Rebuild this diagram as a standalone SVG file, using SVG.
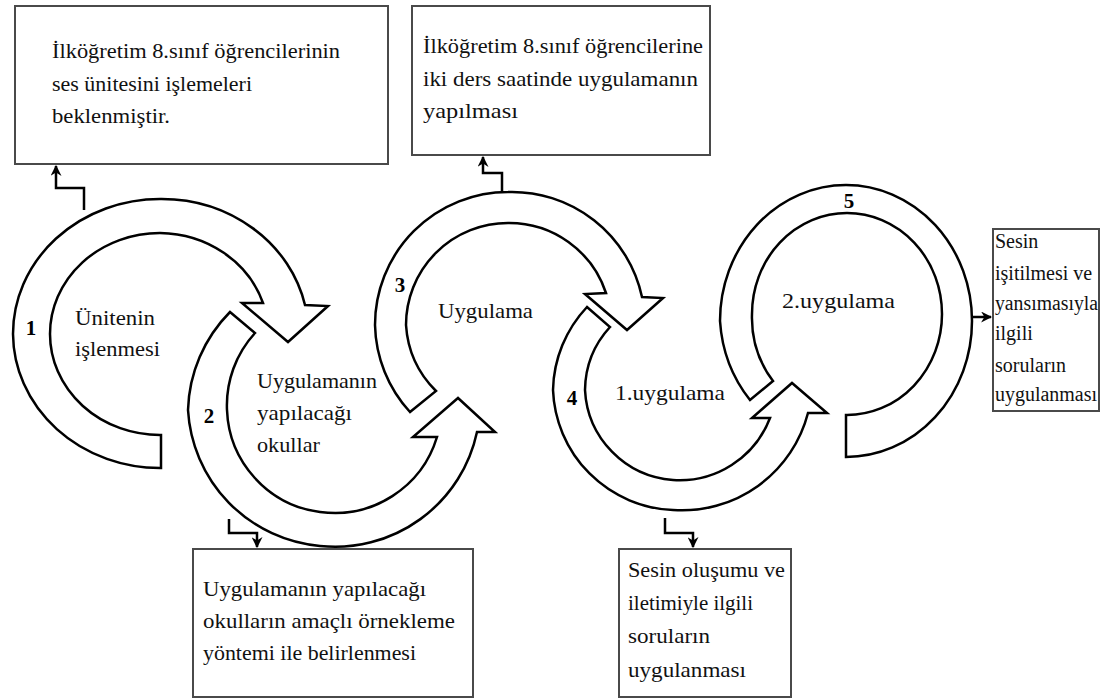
<svg xmlns="http://www.w3.org/2000/svg" width="1105" height="700" viewBox="0 0 1105 700">
<defs>
<style>
.box{fill:#fff;stroke:#4a4a4a;stroke-width:2}
.band{fill:#fff;stroke:#000;stroke-width:2.5;stroke-linejoin:miter}
.t{font-family:"Liberation Serif","Times New Roman",serif;font-size:22px;fill:#111}
.s{font-family:"Liberation Serif","Times New Roman",serif;font-size:20px;fill:#111}
.n{font-family:"Liberation Serif","Times New Roman",serif;font-size:21px;font-weight:bold;fill:#000;text-anchor:middle}
.conn{fill:none;stroke:#000;stroke-width:2.5}
</style>
<marker id="ah" viewBox="0 0 10 10" markerWidth="11" markerHeight="11" markerUnits="userSpaceOnUse" refX="9" refY="5" orient="auto">
<path d="M0,0 L10,5 L0,10 L3,5 z" fill="#000"/>
</marker>
</defs>
<rect width="1105" height="700" fill="#fff"/>

<g id="box-top-left">
<rect class="box" x="15" y="6" width="373" height="158"/>
<text class="t" x="52" y="58" textLength="288" lengthAdjust="spacingAndGlyphs">İlköğretim 8.sınıf öğrencilerinin</text>
<text class="t" x="52" y="91" textLength="200" lengthAdjust="spacingAndGlyphs">ses ünitesini işlemeleri</text>
<text class="t" x="52" y="123" textLength="118" lengthAdjust="spacingAndGlyphs">beklenmiştir.</text>
</g>

<g id="box-top-middle">
<rect class="box" x="412" y="6" width="298" height="149"/>
<text class="t" x="423" y="53" textLength="280" lengthAdjust="spacingAndGlyphs">İlköğretim 8.sınıf öğrencilerine</text>
<text class="t" x="423" y="86" textLength="275" lengthAdjust="spacingAndGlyphs">iki ders saatinde uygulamanın</text>
<text class="t" x="423" y="118" textLength="95" lengthAdjust="spacingAndGlyphs">yapılması</text>
</g>

<g id="box-right">
<rect class="box" x="993" y="229" width="106" height="182"/>
<text class="s" x="995" y="248">Sesin</text>
<text class="s" x="995" y="280">işitilmesi ve</text>
<text class="s" x="995" y="310" textLength="103" lengthAdjust="spacingAndGlyphs">yansımasıyla</text>
<text class="s" x="995" y="340">ilgili</text>
<text class="s" x="995" y="372">soruların</text>
<text class="s" x="995" y="401" textLength="102" lengthAdjust="spacingAndGlyphs">uygulanması</text>
</g>

<g id="box-bottom-left">
<rect class="box" x="193" y="549" width="280" height="148"/>
<text class="t" x="203" y="596" textLength="223" lengthAdjust="spacingAndGlyphs">Uygulamanın yapılacağı</text>
<text class="t" x="203" y="628" textLength="252" lengthAdjust="spacingAndGlyphs">okulların amaçlı örnekleme</text>
<text class="t" x="203" y="660" textLength="213" lengthAdjust="spacingAndGlyphs">yöntemi ile belirlenmesi</text>
</g>

<g id="box-bottom-middle">
<rect class="box" x="619" y="549" width="172" height="148"/>
<text class="t" x="628" y="577" textLength="157" lengthAdjust="spacingAndGlyphs">Sesin oluşumu ve</text>
<text class="t" x="628" y="610" textLength="125" lengthAdjust="spacingAndGlyphs">iletimiyle ilgili</text>
<text class="t" x="628" y="643" textLength="82" lengthAdjust="spacingAndGlyphs">soruların</text>
<text class="t" x="628" y="677" textLength="118" lengthAdjust="spacingAndGlyphs">uygulanması</text>
</g>

<g id="arrow-1">
<path class="band" d="M161,435 L161,468 A147,135 0 0 1 13,334 A147,135 0 0 1 160,199 A147,135 0 0 1 305,305 L328,306 L288,342 L242,303 L263,303 A110,101 0 0 0 160,233 A110,101 0 0 0 50,334 A110,101 0 0 0 161,435 Z"/>
<text class="n" x="31" y="335">1</text>
<text class="t" x="75" y="325" textLength="80" lengthAdjust="spacingAndGlyphs">Ünitenin</text>
<text class="t" x="75" y="356" textLength="85" lengthAdjust="spacingAndGlyphs">işlenmesi</text>
</g>

<g id="arrow-2">
<path class="band" d="M230,312 A145,145 0 0 0 188,410 A145,145 0 0 0 320,546 A145,145 0 0 0 477,432 L495,432 L458,398 L413,437 L437,437 A107,107 0 0 1 320,512 A107,107 0 0 1 227,410 A107,107 0 0 1 255,333 Z"/>
<text class="n" x="209" y="423">2</text>
<text class="t" x="257" y="388" textLength="120" lengthAdjust="spacingAndGlyphs">Uygulamanın</text>
<text class="t" x="257" y="420" textLength="95" lengthAdjust="spacingAndGlyphs">yapılacağı</text>
<text class="t" x="257" y="452" textLength="63" lengthAdjust="spacingAndGlyphs">okullar</text>
</g>

<g id="arrow-3">
<path class="band" d="M410,412 A133,133 0 0 1 375,325 A133,133 0 0 1 508,192 A133,133 0 0 1 642,297 L663,298 L627,330 L585,294 L606,293 A102,102 0 0 0 508,223 A102,102 0 0 0 406,325 A102,102 0 0 0 436,391 Z"/>
<text class="n" x="400" y="292">3</text>
<text class="t" x="438" y="318" textLength="95" lengthAdjust="spacingAndGlyphs">Uygulama</text>
</g>

<g id="arrow-4">
<path class="band" d="M587,307 A125,125 0 0 0 553,390 A125,125 0 0 0 673,510 A130,130 0 0 0 808,413 L827,413 L792,383 L752,418 L770,418 A97,97 0 0 1 673,480 A95,95 0 0 1 585,390 A95,95 0 0 1 610,327 Z"/>
<text class="n" x="572" y="405">4</text>
<text class="t" x="615" y="400" textLength="110" lengthAdjust="spacingAndGlyphs">1.uygulama</text>
</g>

<g id="arrow-5">
<path class="band" d="M750,400 A126,136 0 0 1 720,321 A126,136 0 0 1 846,185 A126,136 0 0 1 972,321 A126,136 0 0 1 846,457 L846,415 A95,101 0 0 0 942,314 A95,101 0 0 0 847,213 A95,101 0 0 0 752,314 A95,101 0 0 0 773,381 Z"/>
<text class="n" x="849" y="208">5</text>
<text class="t" x="782" y="308" textLength="113" lengthAdjust="spacingAndGlyphs">2.uygulama</text>
</g>

<g id="connectors">
<path class="conn" d="M84,210 L84,188 L56,188 L56,166" marker-end="url(#ah)"/>
<path class="conn" d="M502,193 L502,173 L483,173 L483,157" marker-end="url(#ah)"/>
<path class="conn" d="M229,519 L229,533 L257,533 L257,547" marker-end="url(#ah)"/>
<path class="conn" d="M665,518 L665,533 L693,533 L693,547" marker-end="url(#ah)"/>
<path class="conn" d="M973,317 L991,317" marker-end="url(#ah)"/>
</g>
</svg>
